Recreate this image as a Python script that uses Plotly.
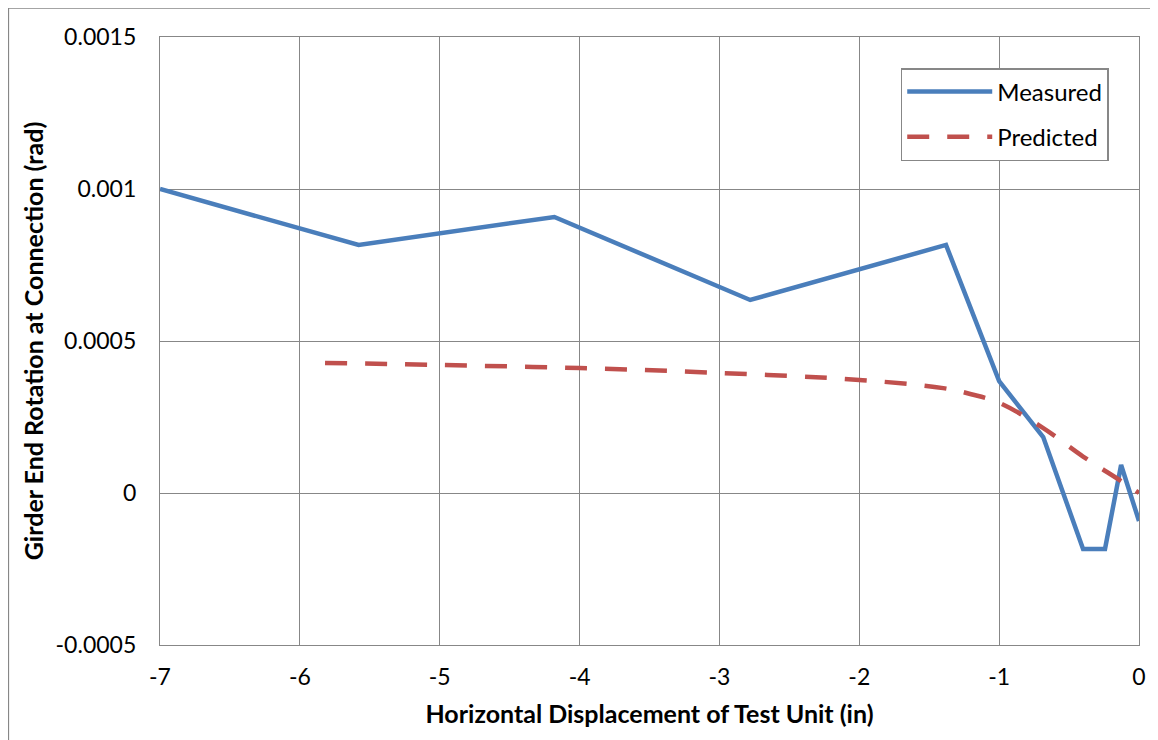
import plotly.graph_objects as go

measured_x = [-7.0, -5.58, -4.18, -2.78, -1.38, -1.0, -0.685, -0.40, -0.243, -0.128, 0.0]
measured_y = [0.001, 0.000816, 0.000908, 0.000635, 0.000816, 0.000368, 0.000184, -0.000184, -0.000184, 0.000092, -0.000092]

predicted_x = [-5.82, -5.0, -4.0, -3.0, -2.0, -1.4, -1.2, -1.0, -0.69, -0.4, -0.13, 0.0]
predicted_y = [0.000428, 0.000421, 0.000411, 0.000395, 0.000372, 0.000345, 0.000325, 0.000297, 0.000215, 0.000120, 0.000040, 0.0]

x_ticks = [-7, -6, -5, -4, -3, -2, -1, 0]
y_ticks = [-0.0005, 0, 0.0005, 0.001, 0.0015]
y_tick_text = ["-0.0005", "0", "0.0005", "0.001", "0.0015"]

FONT = "Lato"
GRID = "#878787"
OFF = 8  # page offset of the figure (body margin)

fig = go.Figure()
fig.add_trace(go.Scatter(x=measured_x, y=measured_y, mode="lines", name="Measured",
                         legendgroup="m",
                         line=dict(color="#4A7EBB", width=4.5)))
fig.add_trace(go.Scatter(x=predicted_x, y=predicted_y, mode="lines", name="Predicted",
                         legendgroup="p", line_shape="spline",
                         line=dict(color="#C0504D", width=4.5, dash="22px,18px")))

W, H = 1150, 732
L, T = 160 - OFF, 37 - OFF
R = W - (1142 - OFF)
B = H - (645 - OFF)
pw = W - L - R
ph = H - T - B


def px_x(p):
    return (p - OFF - L) / pw


def px_y(p):
    return (H - B - (p - OFF)) / ph


fig.update_layout(
    width=W, height=H,
    margin=dict(l=L, r=R, t=T, b=B),
    paper_bgcolor="white", plot_bgcolor="white",
    font=dict(family=FONT, size=23, color="black"),
    showlegend=True,
    legend=dict(x=px_x(903), y=px_y(68), xanchor="left", yanchor="top",
                bgcolor="white", bordercolor=GRID, borderwidth=1.5,
                font=dict(family=FONT, size=24), tracegroupgap=11,
                itemwidth=85,
                traceorder="grouped"),
    xaxis=dict(range=[-7, 0], tickvals=x_ticks, ticktext=[str(v) for v in x_ticks],
               showgrid=True, gridcolor=GRID, gridwidth=1.3,
               showline=True, linecolor=GRID, linewidth=1.3, mirror=True,
               zeroline=False, ticks="outside", ticklen=11, tickcolor="rgba(0,0,0,0)",
               tickfont=dict(family=FONT, size=23),
               title=dict(text="<b>Horizontal Displacement of Test Unit (in)</b>",
                          font=dict(family=FONT, size=25), standoff=16)),
    yaxis=dict(range=[-0.0005, 0.0015], tickvals=y_ticks, ticktext=y_tick_text,
               showgrid=True, gridcolor=GRID, gridwidth=1.3,
               showline=True, linecolor=GRID, linewidth=1.3, mirror=True,
               zeroline=False, ticks="outside", ticklen=18, tickcolor="rgba(0,0,0,0)",
               tickfont=dict(family=FONT, size=23),
               title=dict(text="<b>Girder End Rotation at Connection (rad)</b>",
                          font=dict(family=FONT, size=25), standoff=4)),
    shapes=[dict(type="rect", xref="paper", yref="paper",
                 x0=px_x(8), x1=px_x(1156), y0=px_y(760), y1=px_y(8),
                 line=dict(color=GRID, width=1.3), fillcolor="rgba(0,0,0,0)", layer="below")],
)

fig.write_html("out.html")
